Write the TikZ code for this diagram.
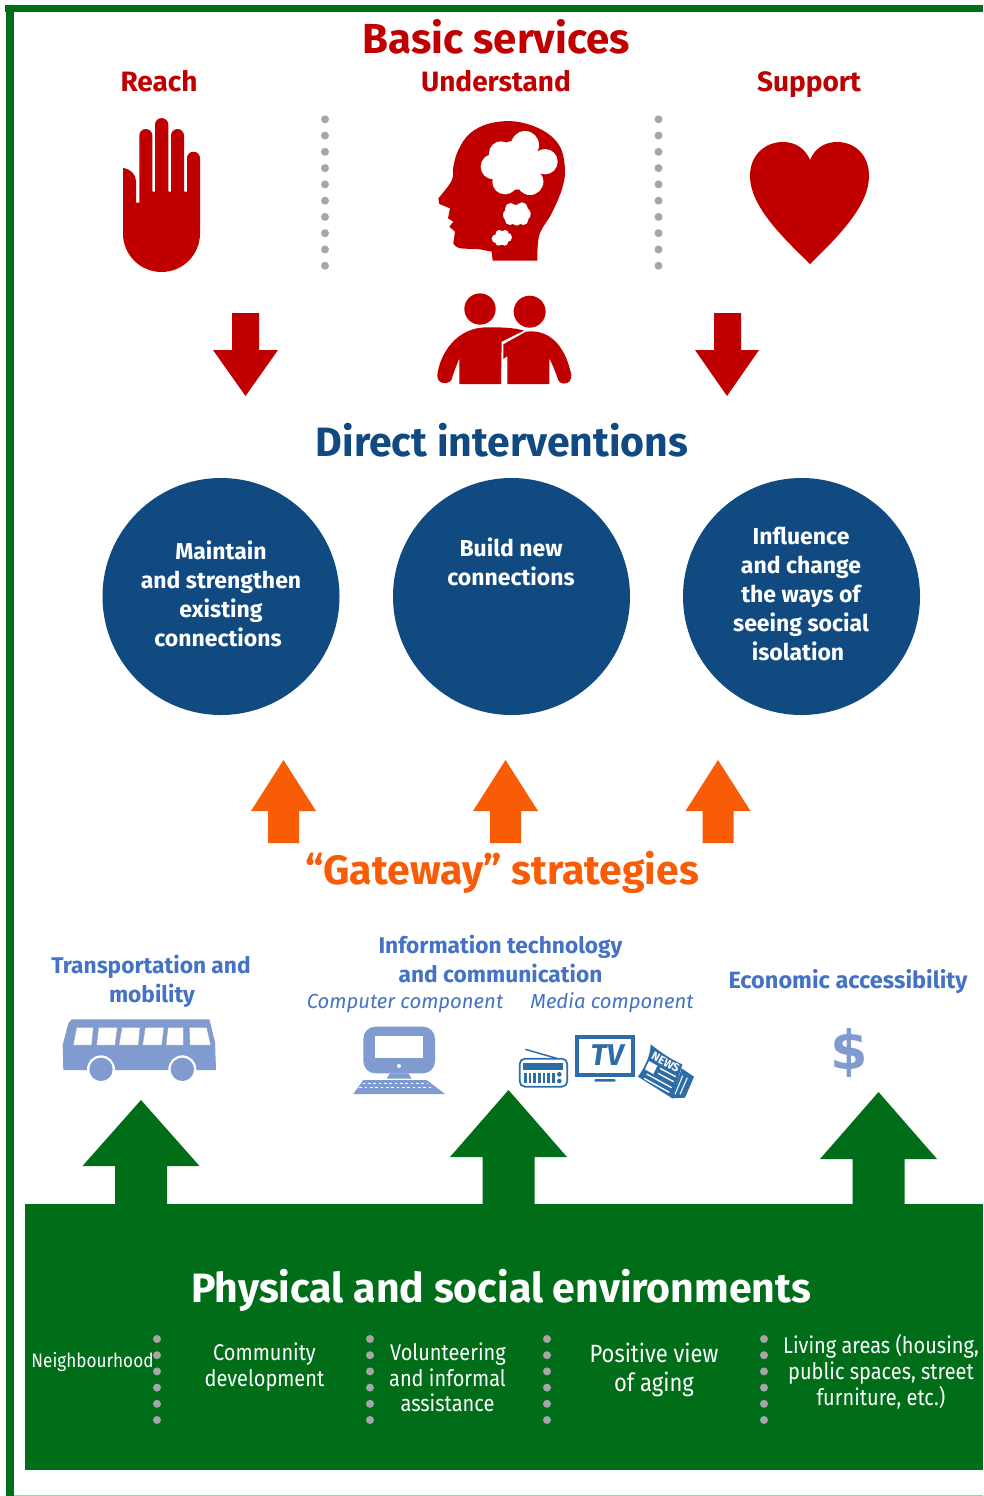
\documentclass[tikz,border=0pt]{standalone}
\usepackage{fontspec}
\setmainfont{Fira Sans}
\newfontfamily\narrowf[FakeStretch=0.88]{Fira Sans}
\newfontfamily\dollarf{DejaVu Sans}
\definecolor{redc}{HTML}{C00000}
\definecolor{navyc}{HTML}{104A80}
\definecolor{orangec}{HTML}{F95C06}
\definecolor{greenc}{HTML}{006D18}
\definecolor{linkc}{HTML}{4472C4}
\definecolor{iconc}{HTML}{7F9BCF}
\definecolor{mediac}{HTML}{2E6CA8}
\definecolor{dotc}{HTML}{A6A6A6}
\newcommand{\fsz}[1]{\fontsize{\dimexpr#1pt*3/4\relax}{\dimexpr#1pt*9/10\relax}\selectfont}
\newcommand{\upblock}[7]{\fill[#7] (#1,#2) -- (#1+#3,#4) -- (#1+#5,#4) -- (#1+#5,#6) -- (#1-#5,#6) -- (#1-#5,#4) -- (#1-#3,#4) -- cycle;}
\tikzset{
 x=0.75pt,y=-0.75pt,
 lbl/.style={inner sep=0pt,anchor=center,execute at begin node={\rule[-.25em]{0pt}{1.19em}}},
 titlered/.style={lbl,text=redc,font=\bfseries\fsz{42}},
 headred/.style={lbl,text=redc,font=\bfseries\fsz{28}},
 circle text/.style={lbl,text=white,font=\bfseries\fsz{23}},
 linkhead/.style={lbl,text=linkc,font=\bfseries\fsz{22.7}},
 linkital/.style={lbl,text=linkc,font=\itshape\fsz{20.3}},
 envtext/.style={lbl,text=white,font=\narrowf\fsz{22.7}},
 disc/.style={circle,fill=navyc,minimum size=177.75pt,inner sep=0pt},
}
\begin{document}
\begin{tikzpicture}
\useasboundingbox (0,0) rectangle (983,1496);
\fill[white] (0,0) rectangle (983,1496);
% frame
\fill[greenc] (5,5) rectangle (983,12);
\fill[greenc] (6,5) rectangle (14,1496);
\fill[greenc!35] (14,1494.5) rectangle (983,1496);
% titles
\node[titlered] (basic) at (496.5,39) {Basic services};
\node[headred] (reach) at (159,82) {Reach};
\node[headred] (understand) at (496,82) {Understand};
\node[headred] (support) at (809,82) {Support};
% dots top
\foreach \i in {0,...,9}{
  \fill[dotc] (325,119.3+16.27*\i) circle (4);
  \fill[dotc] (658.5,119.3+16.27*\i) circle (4);
}
% hand
\fill[redc] (123,167.7) .. controls (130,169) and (136,174) .. (136,181) -- (136,202.7) -- (139.3,202.7)
 -- (139.3,135.5) arc (180:360:6.5) -- (152.3,191.7) -- (155,191.7) -- (155,124.7) arc (180:360:6.65)
 -- (168.3,191.7) -- (171,191.7) -- (171,135.5) arc (180:360:6.5) -- (184,191.7) -- (187,191.7)
 -- (187,158.2) arc (180:360:6.5) -- (200,233.5) arc (0:180:38.5) -- cycle;
% head
\begin{scope}[shift={(420,110)},scale=1/3]
\fill[redc] plot[smooth,tension=0.6] coordinates {(352,452) (358,375) (395,310) (425,240) (435,180) (420,110) (370,62) (290,35) (210,40) (150,70) (115,120) (100,170) (95,212) (55,265)}
 -- (58,282) -- (90,295) -- (84,325) -- (100,335) -- (88,350) -- (105,365) -- (100,400) .. controls (105,412) and (120,416) .. (135,416) -- (180,418) -- (215,425) -- (218,452) -- cycle;
\fill[white] (290,165) circle (74) (243,130) circle (36) (315,105) circle (42) (375,155) circle (38) (330,215) circle (40) (255,215) circle (38) (220,170) circle (38);
\fill[white] (290,312) circle (28) (268,315) circle (19) (312,312) circle (20) (272,296) circle (17) (306,294) circle (17) (270,330) circle (15) (310,330) circle (15) (290,332) circle (15);
\fill[white] (245,384) circle (21) (228,386) circle (13) (262,382) circle (14) (238,371) circle (11) (255,371) circle (11) (236,397) circle (10) (254,397) circle (10);
% people
\fill[redc] (180,597) circle (47) (329,605) circle (48);
\fill[redc] (118,745) .. controls (108,770) and (100,790) .. (95,808) .. controls (88,825) and (50,825) .. (52,795) .. controls (60,730) and (110,652) .. (200,652) .. controls (240,652) and (280,652) .. (312,662) -- (245,695) -- (243,822) -- (118,822) -- cycle;
\fill[redc] (250,703) -- (318,665) .. controls (400,655) and (440,725) .. (454,795) .. controls (456,825) and (420,828) .. (414,808) .. controls (408,790) and (398,765) .. (388,745) -- (388,822) -- (262,822) -- (262,738) -- (250,747) -- cycle;
\end{scope}
% heart
\fill[redc] (810,264) .. controls (780,235) and (750,205) .. (750,176) .. controls (750,155) and (765,142) .. (783,142) .. controls (795,142) and (805,148) .. (810,160) .. controls (815,148) and (825,142) .. (837,142) .. controls (855,142) and (869,155) .. (869,176) .. controls (869,205) and (840,235) .. (810,264) -- cycle;
% red arrows
\fill[redc] (232,313) -- (259,313) -- (259,350) -- (278,350) -- (245.5,396) -- (213,350) -- (232,350) -- cycle;
\fill[redc] (714,313) -- (741,313) -- (741,350) -- (759,350) -- (727,396) -- (695,350) -- (714,350) -- cycle;
% direct
\node[lbl,text=navyc,font=\bfseries\fsz{41}] (direct) at (502,442) {Direct interventions};
\node[disc] (c1) at (221,596.5) {};
\node[disc] (c2) at (511.5,596.5) {};
\node[disc] (c3) at (801.5,596.5) {};
\node[circle text] (c1a) at (221,552) {Maintain};
\node[circle text] (c1b) at (221,580.5) {and strengthen};
\node[circle text] (c1c) at (221,609.5) {existing};
\node[circle text] (c1d) at (218,639) {connections};
\node[circle text] (c2a) at (511,548.5) {Build new};
\node[circle text] (c2b) at (511,577.5) {connections};
\node[circle text] (c3a) at (801,537) {Influence};
\node[circle text] (c3b) at (801,566) {and change};
\node[circle text] (c3c) at (801,595) {the ways of};
\node[circle text] (c3d) at (801,624) {seeing social};
\node[circle text] (c3e) at (798,653) {isolation};
% orange arrows
\upblock{283.5}{760}{32.5}{811}{15.5}{843}{orangec}
\upblock{505.5}{760}{32.5}{811}{15.5}{843}{orangec}
\upblock{718}{760}{32.5}{811}{15.5}{843}{orangec}
\node[lbl,text=orangec,font=\bfseries\fsz{41}] (gate) at (502,870) {“Gateway” strategies};
% link headings
\node[linkhead] (t1) at (151,966) {Transportation and};
\node[linkhead] (t2) at (152,995) {mobility};
\node[linkhead] (i1) at (500.5,946) {Information technology};
\node[linkhead] (i2) at (500.5,975) {and communication};
\node[linkital] (i3) at (405,1001) {Computer component};
\node[linkital] (i4) at (612,1001) {Media component};
\node[linkhead,font=\bfseries\fsz{23.5}] (e1) at (848,980) {Economic accessibility};
% bus
\begin{scope}[shift={(40,1010)},scale=1/3]
\fill[iconc] (95,28) -- (508,28) -- (525,95) -- (528,180) -- (70,180) -- (68,105) -- (85,40) -- cycle;
\foreach \ta/\tb/\ba/\bb in {110/160/100/155,176/232/170/225,246/300/237/295,316/372/308/365,384/430/378/430,448/500/450/512}{
 \fill[white,draw=black!35,line width=0.3pt] (\ta,52) -- (\tb,52) -- (\bb,105) -- (\ba,105) -- cycle;
}
\fill[white] (183,178) circle (42) (427,178) circle (42);
\fill[iconc] (183,178) circle (35) (427,178) circle (35);
\end{scope}
% computer
\begin{scope}[shift={(340,1020)},scale=1/3]
\fill[iconc,rounded corners=9pt] (70,20) rectangle (285,160);
\fill[white] (105,48) rectangle (250,115);
\fill[white] (177,138) circle (6);
\fill[iconc] (150,160) -- (205,160) -- (215,176) -- (140,176) -- cycle;
\fill[iconc] (70,180) -- (260,180) -- (315,222) -- (40,222) -- cycle;
\draw[white,line width=1.2pt,dash pattern=on 2pt off 2pt] (68,190) -- (262,190);
\draw[white,line width=1.2pt,dash pattern=on 2pt off 2pt] (58,202) -- (275,202);
\end{scope}
% radio and tv
\begin{scope}[shift={(340,1020)},scale=1/3]
\draw[mediac,line width=1.3pt,rounded corners=4pt] (539,116) rectangle (682,200);
\draw[mediac,line width=1.1pt] (556,88) -- (650,115);
\fill[mediac] (550,128) rectangle (668,150);
\foreach \a in {0,...,6} \fill[mediac] (552+14*\a,160) rectangle (560+14*\a,188);
\fill[mediac] (658,163) circle (7) (658,183) circle (7);
\draw[mediac,line width=3pt] (711,51) rectangle (879,164);
\fill[mediac,rounded corners=1pt] (763,177) rectangle (827,185);
\node[lbl,text=mediac,font=\bfseries\itshape\fsz{30}] (tv) at (801,105) {TV};
\end{scope}
% newspaper
\begin{scope}[shift={(630,1035)},scale=1/3]
\fill[mediac] (155,100) -- (192,125) -- (165,188) -- (125,190) -- cycle;
\draw[white,line width=0.8pt] (158,122) -- (135,178);
\draw[white,line width=0.8pt] (172,128) -- (150,178);
\fill[mediac] (62,28) .. controls (90,50) and (125,75) .. (157,88) -- (127,190) -- (24,125) .. controls (45,95) and (62,60) .. (62,28) -- cycle;
\fill[white] (57,78) -- (82,92) -- (70,117) -- (45,103) -- cycle;
\draw[white,line width=1pt] (90,100) -- (137,125);
\draw[white,line width=1pt] (84,115) -- (131,140);
\draw[white,line width=1pt] (50,117) -- (125,158);
\draw[white,line width=1pt] (42,130) -- (118,172);
\node[lbl,text=white,font=\bfseries\fsz{11.5},rotate=-28] (news) at (107,82) {NEWS};
\end{scope}
% dollar
\node[lbl,text=iconc,font=\dollarf\bfseries\fsz{54}] (dollar) at (849,1051) {\$};
% green arrows and box
\fill[greenc] (25,1204) rectangle (983,1470);
\upblock{141}{1100}{58.5}{1166}{26}{1204}{greenc}
\upblock{508.5}{1090}{58.5}{1157}{26}{1204}{greenc}
\upblock{878.5}{1092}{58.5}{1159}{26}{1204}{greenc}
\node[lbl,text=white,font=\bfseries\fsz{41}] (phys) at (501,1288) {Physical and social environments};
\foreach \xx in {157,370,547,764}{
 \foreach \i in {0,...,5} \fill[dotc] (\xx,1339+16.2*\i) circle (4);
}
\node[envtext,font=\narrowf\fsz{19.5}] (n1) at (92.5,1361) {Neighbourhood};
\node[envtext] (n2a) at (264.5,1353) {Community};
\node[envtext] (n2b) at (264.5,1379) {development};
\node[envtext] (n3a) at (448,1353) {Volunteering};
\node[envtext] (n3b) at (447.5,1379) {and informal};
\node[envtext] (n3c) at (447.5,1404) {assistance};
\node[envtext,font=\narrowf\fsz{25}] (n4a) at (654,1354) {Positive view};
\node[envtext,font=\narrowf\fsz{25}] (n4b) at (654,1383) {of aging};
\node[envtext] (n5a) at (881,1346) {Living areas (housing,};
\node[envtext] (n5b) at (881,1372) {public spaces, street};
\node[envtext] (n5c) at (881,1398) {furniture, etc.)};
\end{tikzpicture}
\end{document}
